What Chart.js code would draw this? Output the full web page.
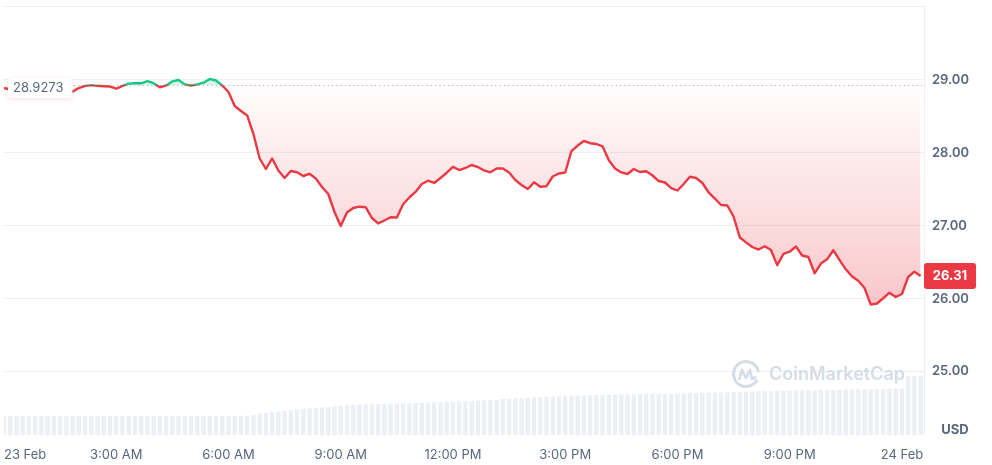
<!DOCTYPE html>
<html>
<head>
<meta charset="utf-8">
<script src="https://cdn.jsdelivr.net/npm/chart.js"></script>
<style>
  html, body { margin: 0; padding: 0; background: #fff; }
  #wrap { width: 992px; height: 465px; position: relative; }
</style>
</head>
<body>
<div id="wrap"><canvas id="chart"></canvas></div>
<script>
// price at the start of the 24h window (dotted reference line)
const openPrice = 28.9273;
const stepMinutes = 10;

// price every 10 minutes, from 00:00 on 23 Feb
const prices = [
  28.89, 28.87, 28.87, 28.88, 28.87, 28.88, 28.86, 28.87, 28.88, 28.87,
  28.86, 28.84, 28.89, 28.92, 28.93, 28.92, 28.915, 28.91, 28.88, 28.92,
  28.95, 28.955, 28.955, 28.985, 28.956, 28.90, 28.925, 28.98, 29.00, 28.94,
  28.925, 28.94, 28.963, 29.014, 28.993, 28.925, 28.835, 28.643, 28.575, 28.513,
  28.259, 27.923, 27.779, 27.923, 27.759, 27.656, 27.752, 27.734, 27.683, 27.713,
  27.649, 27.532, 27.436, 27.189, 26.997, 27.182, 27.244, 27.262, 27.255, 27.107,
  27.032, 27.073, 27.117, 27.114, 27.295, 27.388, 27.464, 27.573, 27.618, 27.587,
  27.656, 27.728, 27.809, 27.765, 27.793, 27.834, 27.806, 27.759, 27.734, 27.786,
  27.786, 27.731, 27.628, 27.56, 27.505, 27.596, 27.536, 27.543, 27.676, 27.717,
  27.731, 28.023, 28.101, 28.163, 28.133, 28.122, 28.088, 27.90, 27.787, 27.732,
  27.71, 27.779, 27.738, 27.749, 27.69, 27.614, 27.594, 27.518, 27.484, 27.573,
  27.673, 27.656, 27.587, 27.457, 27.374, 27.285, 27.278, 27.127, 26.839, 26.773,
  26.709, 26.674, 26.72, 26.667, 26.46, 26.613, 26.644, 26.716, 26.592, 26.572,
  26.348, 26.482, 26.54, 26.665, 26.528, 26.403, 26.305, 26.246, 26.147, 25.92,
  25.934, 26.006, 26.082, 26.023, 26.064, 26.297, 26.37, 26.31
];

// 24h volume (millions USD), same timestamps
const volumes = [
  190, 190, 189, 190, 190, 191, 190, 190, 189, 190,
  190, 190, 191, 190, 190, 190, 189, 190, 190, 190,
  191, 190, 190, 190, 189, 190, 190, 191, 190, 190,
  190, 190, 189, 190, 190, 191, 190, 190, 190, 193,
  200, 215, 222, 228, 235, 242, 250, 255, 262, 266,
  270, 275, 280, 285, 290, 295, 300, 303, 305, 307,
  309, 310, 312, 314, 316, 318, 320, 322, 325, 327,
  330, 332, 334, 336, 338, 340, 343, 346, 349, 352,
  360, 363, 366, 369, 372, 375, 378, 381, 384, 387,
  390, 392, 394, 396, 398, 400, 401, 403, 404, 406,
  407, 408, 410, 411, 412, 413, 414, 415, 416, 417,
  418, 419, 420, 422, 424, 426, 428, 430, 432, 434,
  436, 438, 440, 441, 442, 443, 444, 445, 446, 447,
  448, 449, 450, 451, 452, 453, 454, 455, 456, 457,
  458, 459, 460, 461, 462, 590, 592, 594
];

const tickHours = [0, 3, 6, 9, 12, 15, 18, 21, 24];
const tickLabels = ["23 Feb", "3:00 AM", "6:00 AM", "9:00 AM", "12:00 PM", "3:00 PM", "6:00 PM", "9:00 PM", "24 Feb"];
const priceTicks = [25, 26, 27, 28, 29];

const hours = prices.map((p, i) => i * stepMinutes / 60);

const RED = '#ea3943';
const GREEN = '#16c784';
const GRID = '#edf0f3';
const TEXT = '#58667e';

Chart.defaults.font.family = 'Inter';

function lineGradient(chart) {
  const { ctx, chartArea, scales } = chart;
  if (!chartArea || !scales.y) return RED;
  const by = scales.y.getPixelForValue(openPrice);
  let t = (by - chartArea.top) / (chartArea.bottom - chartArea.top);
  t = Math.min(Math.max(t, 0), 1);
  const g = ctx.createLinearGradient(0, chartArea.top, 0, chartArea.bottom);
  g.addColorStop(0, GREEN);
  g.addColorStop(t, GREEN);
  g.addColorStop(t, RED);
  g.addColorStop(1, RED);
  return g;
}

function fillGradient(chart) {
  const { ctx, chartArea, scales } = chart;
  if (!chartArea || !scales.y) return 'rgba(234,57,67,0.1)';
  const by = scales.y.getPixelForValue(openPrice);
  const low = scales.y.getPixelForValue(Math.min(...prices));
  const g = ctx.createLinearGradient(0, by, 0, low);
  g.addColorStop(0, 'rgba(234,57,67,0.01)');
  g.addColorStop(1, 'rgba(234,57,67,0.28)');
  return g;
}

function roundRect(ctx, x, y, w, h, r) {
  ctx.beginPath();
  ctx.moveTo(x + r, y);
  ctx.lineTo(x + w - r, y);
  ctx.quadraticCurveTo(x + w, y, x + w, y + r);
  ctx.lineTo(x + w, y + h - r);
  ctx.quadraticCurveTo(x + w, y + h, x + w - r, y + h);
  ctx.lineTo(x + r, y + h);
  ctx.quadraticCurveTo(x, y + h, x, y + h - r);
  ctx.lineTo(x, y + r);
  ctx.quadraticCurveTo(x, y, x + r, y);
  ctx.closePath();
}

const overlays = {
  id: 'overlays',
  beforeDatasetsDraw(chart) {
    const { ctx, chartArea, scales: { y } } = chart;
    const by = Math.round(y.getPixelForValue(openPrice)) + 0.5;

    // dotted open price line
    ctx.save();
    ctx.setLineDash([1, 3.3]);
    ctx.strokeStyle = '#a3abbd';
    ctx.lineWidth = 1;
    ctx.beginPath();
    ctx.moveTo(chartArea.left + 70, by);
    ctx.lineTo(chartArea.right, by);
    ctx.stroke();
    ctx.setLineDash([]);

    // watermark
    const wx = chartArea.right - 178;
    const wy = chartArea.bottom - 61;
    ctx.strokeStyle = '#d6dce5';
    ctx.lineWidth = 3;
    ctx.beginPath();
    ctx.arc(wx, wy, 12.5, Math.PI * 0.15, Math.PI * 1.95);
    ctx.stroke();
    ctx.lineWidth = 2.6;
    ctx.lineJoin = 'round';
    ctx.beginPath();
    ctx.moveTo(wx - 7, wy + 6);
    ctx.lineTo(wx - 4, wy - 4);
    ctx.lineTo(wx, wy + 4);
    ctx.lineTo(wx + 4, wy - 4);
    ctx.lineTo(wx + 6, wy + 5);
    ctx.lineTo(wx + 10, wy + 3);
    ctx.stroke();
    ctx.fillStyle = '#d6dce5';
    ctx.font = '600 18px Inter';
    ctx.textAlign = 'left';
    ctx.textBaseline = 'middle';
    ctx.fillText('CoinMarketCap', wx + 23, wy + 1);
    ctx.restore();
  },
  afterDatasetsDraw(chart) {
    const { ctx, chartArea, scales: { y } } = chart;

    // open price label
    const oy = y.getPixelForValue(prices[0]);
    ctx.save();
    ctx.font = '13px Inter';
    const label = String(openPrice);
    const tw = ctx.measureText(label).width;
    ctx.shadowColor = 'rgba(234,57,67,0.18)';
    ctx.shadowBlur = 4;
    ctx.shadowOffsetY = 1;
    ctx.fillStyle = '#ffffff';
    roundRect(ctx, chartArea.left + 4, oy - 10, tw + 14, 20, 4);
    ctx.fill();
    ctx.shadowColor = 'transparent';
    ctx.fillStyle = TEXT;
    ctx.textAlign = 'left';
    ctx.textBaseline = 'middle';
    ctx.fillText(label, chartArea.left + 9, oy + 0.5);
    ctx.restore();

    // last price tag
    const last = prices[prices.length - 1];
    const ly = y.getPixelForValue(last);
    ctx.save();
    ctx.fillStyle = RED;
    roundRect(ctx, chartArea.right, ly - 13, 52, 26, 3);
    ctx.fill();
    ctx.fillStyle = '#ffffff';
    ctx.font = '700 13px Inter';
    ctx.textAlign = 'center';
    ctx.textBaseline = 'middle';
    ctx.fillText(last.toFixed(2), chartArea.right + 26, ly + 0.5);
    ctx.restore();
  },
  afterDraw(chart) {
    const { ctx, chartArea } = chart;
    ctx.save();
    ctx.fillStyle = TEXT;
    ctx.font = '700 13px Inter';
    ctx.textAlign = 'center';
    ctx.textBaseline = 'middle';
    ctx.fillText('USD', chartArea.right + 31, chartArea.bottom - 5);
    ctx.restore();
  }
};

const xMax = 24.59;
const yMin = 24.13;
const yMax = 30.015;

new Chart(document.getElementById('chart'), {
  type: 'line',
  data: {
    labels: hours,
    datasets: [
      {
        type: 'line',
        data: prices,
        yAxisID: 'y',
        borderColor: (c) => lineGradient(c.chart),
        backgroundColor: (c) => fillGradient(c.chart),
        fill: { target: { value: openPrice }, above: 'rgba(22,199,132,0.18)' },
        borderWidth: 2.4,
        pointRadius: 0,
        tension: 0,
        borderJoinStyle: 'round'
      },
      {
        type: 'bar',
        data: volumes,
        yAxisID: 'yv',
        backgroundColor: '#eceff3',
        categoryPercentage: 1,
        barPercentage: 0.7
      }
    ]
  },
  options: {
    responsive: true,
    maintainAspectRatio: false,
    animation: false,
    layout: { padding: { left: 4, top: 6, right: 0, bottom: 0 } },
    plugins: { legend: { display: false }, tooltip: { enabled: false } },
    events: [],
    scales: {
      x: {
        type: 'linear',
        min: 0,
        max: xMax,
        offset: false,
        afterBuildTicks: (s) => { s.ticks = tickHours.concat([xMax]).map(v => ({ value: v })); },
        afterFit: (s) => { s.height = 30; s.paddingLeft = 0; s.paddingRight = 0; },
        ticks: {
          align: 'inner',
          autoSkip: false,
          maxRotation: 0,
          padding: 12,
          color: TEXT,
          font: { size: 13 },
          callback: (v) => { const k = tickHours.indexOf(v); return k >= 0 ? tickLabels[k] : ''; }
        },
        grid: {
          drawTicks: false,
          color: (c) => (c.index === 0 ? GRID : 'transparent')
        },
        border: { display: false }
      },
      y: {
        position: 'right',
        min: yMin,
        max: yMax,
        afterBuildTicks: (s) => { s.ticks = priceTicks.concat([yMax]).map(v => ({ value: v })); },
        afterFit: (s) => { s.width = 68; s.paddingTop = 0; s.paddingBottom = 0; },
        ticks: {
          padding: 8,
          color: TEXT,
          font: { size: 13, weight: '600' },
          callback: (v) => (priceTicks.includes(v) ? v.toFixed(2) : '')
        },
        grid: { drawTicks: false, color: GRID },
        border: { display: true, color: GRID }
      },
      yv: {
        display: false,
        min: 0,
        max: 4290
      }
    }
  },
  plugins: [overlays]
});
</script>
</body>
</html>
